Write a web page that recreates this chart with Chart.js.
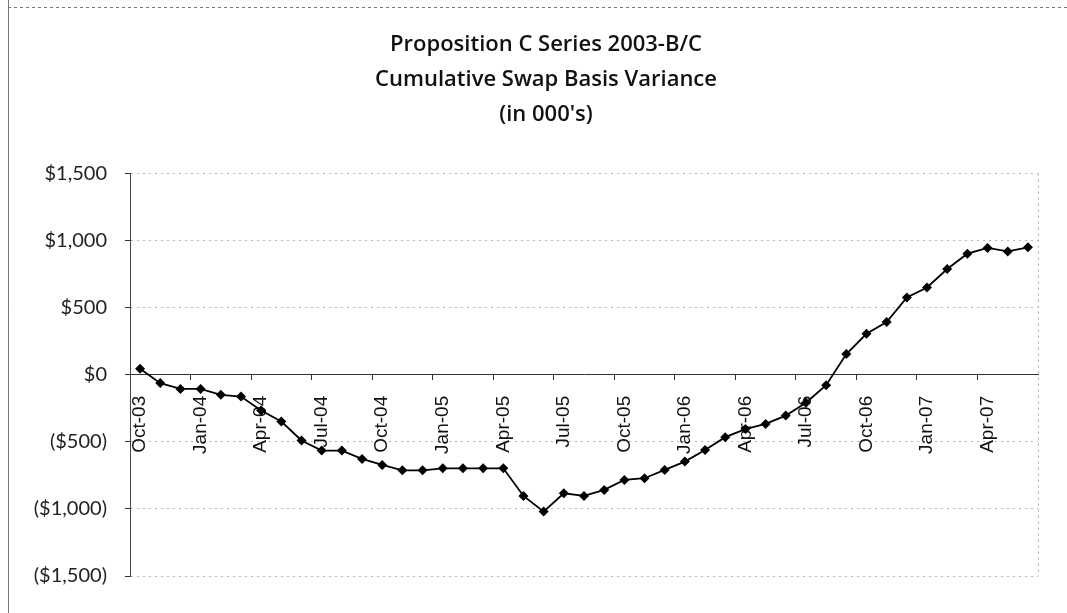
<!DOCTYPE html>
<html>
<head>
<meta charset="utf-8">
<script src="https://cdn.jsdelivr.net/npm/chart.js@4"></script>
<style>
  html, body { margin: 0; padding: 0; background: #fff; }
  #wrap { width: 1067px; height: 613px; position: relative; }
</style>
</head>
<body>
<div id="wrap"><canvas id="myChart"></canvas></div>
<script>
// Monthly categories, Oct-03 .. Jun-07
const meses = ["Oct-03","Nov-03","Dec-03","Jan-04","Feb-04","Mar-04","Apr-04","May-04","Jun-04",
  "Jul-04","Aug-04","Sep-04","Oct-04","Nov-04","Dec-04","Jan-05","Feb-05","Mar-05","Apr-05",
  "May-05","Jun-05","Jul-05","Aug-05","Sep-05","Oct-05","Nov-05","Dec-05","Jan-06","Feb-06",
  "Mar-06","Apr-06","May-06","Jun-06","Jul-06","Aug-06","Sep-06","Oct-06","Nov-06","Dec-06",
  "Jan-07","Feb-07","Mar-07","Apr-07","May-07","Jun-07"];

// Cumulative swap basis variance, in 000's
const varianza = [45, -62, -105, -105, -149, -162, -266, -348, -490, -565, -565, -627, -672,
  -712, -712, -697, -697, -697, -697, -903, -1020, -883, -903, -858, -784, -771, -709, -647,
  -560, -465, -405, -366, -304, -208, -78, 155, 306, 393, 577, 651, 789, 903, 946, 920, 950];

const titulo = ["Proposition C Series 2003-B/C", "Cumulative Swap Basis Variance", "(in 000's)"];
const ticksY = [-1500, -1000, -500, 0, 500, 1000, 1500];

function dinero(v){
    const s = "$" + Math.abs(v).toLocaleString("en-US");
    return v < 0 ? "(" + s + ")" : s;
}

// outer frame + right edge of the plot
const marco = {
    id: "marco",
    beforeDraw(chart){
        const c = chart.ctx, a = chart.chartArea;
        c.save();
        c.strokeStyle = "#777";
        c.lineWidth = 1;
        c.beginPath(); c.moveTo(8.5, 0); c.lineTo(8.5, chart.height); c.stroke();
        c.setLineDash([3, 3]);
        c.beginPath(); c.moveTo(8, 7.5); c.lineTo(chart.width, 7.5); c.stroke();
        c.strokeStyle = "#aaa";
        c.setLineDash([2, 4]);
        c.beginPath(); c.moveTo(a.right + 0.5, a.top); c.lineTo(a.right + 0.5, a.bottom); c.stroke();
        c.restore();
    }
};

function inicio(){
    const cnv = document.getElementById("myChart");

    new Chart(cnv, {
        type: "line",
        data: {
            labels: meses,
            datasets: [{
                data: varianza,
                borderColor: "#000",
                backgroundColor: "#000",
                borderWidth: 1.8,
                pointStyle: "rectRot",
                pointRadius: 5,
                pointBorderWidth: 0,
                tension: 0
            }]
        },
        options: {
            responsive: true,
            maintainAspectRatio: false,
            animation: false,
            layout: { padding: { left: 25, right: 0, top: 0, bottom: 37 } },
            plugins: {
                legend: { display: false },
                tooltip: { enabled: false },
                title: {
                    display: true,
                    text: titulo,
                    color: "#111",
                    font: { family: "Open Sans", size: 22, weight: 600, lineHeight: 1.6 },
                    padding: { top: 27, bottom: 41 }
                }
            },
            scales: {
                x: {
                    position: { y: 0 },
                    offset: true,
                    grid: {
                        offset: true,
                        drawOnChartArea: false,
                        drawTicks: true,
                        tickLength: 5,
                        color: (ctx) => (ctx.index % 3 === 0 ? "#333" : "rgba(0,0,0,0)")
                    },
                    border: { display: true, color: "#333", width: 1 },
                    ticks: {
                        autoSkip: false,
                        maxRotation: 90,
                        minRotation: 90,
                        padding: 16,
                        color: "#111",
                        font: { family: "Liberation Sans", size: 19 },
                        callback: (v, i) => (i % 3 === 0 ? meses[i] : "")
                    }
                },
                y: {
                    min: ticksY[0],
                    max: ticksY[ticksY.length - 1],
                    afterFit: (s) => { s.width = 105; },
                    afterBuildTicks: (s) => { s.ticks = ticksY.map(v => ({ value: v })); },
                    grid: {
                        color: (ctx) => (ctx.tick && ctx.tick.value === 0 ? "rgba(0,0,0,0)" : "#b5b5b5"),
                        tickColor: "#333",
                        tickLength: 5,
                        lineWidth: 1
                    },
                    // dash goes to the grid lines, the axis line itself stays solid
                    border: { display: true, color: "#444", width: 1, dash: [2, 4] },
                    ticks: {
                        padding: 18,
                        color: "#222",
                        font: { family: "Lato", size: 20 },
                        callback: (v) => dinero(v)
                    }
                },
                // empty right axis, only keeps room so the title sits where it does in the original
                y2: {
                    type: "linear",
                    position: "right",
                    afterFit: (s) => { s.width = 26; },
                    grid: { drawOnChartArea: false, drawTicks: false },
                    border: { display: false },
                    ticks: { display: false }
                }
            }
        },
        plugins: [marco]
    });
}

inicio();
</script>
</body>
</html>
